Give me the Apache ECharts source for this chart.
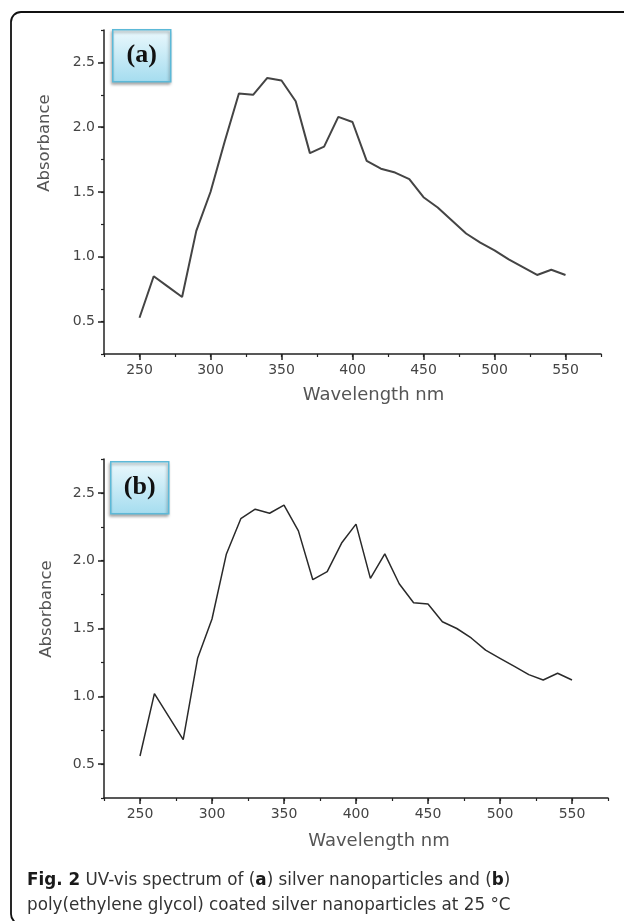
<!DOCTYPE html>
<html>
<head>
<meta charset="utf-8">
<script src="https://cdn.jsdelivr.net/npm/echarts@6/dist/echarts.min.js"></script>
<style>
	html, body { margin: 0; padding: 0; background: #fff; }
	#main { width: 624px; height: 921px; }
</style>
</head>
<body>
<div id="main"></div>
<script>
// wavelength (nm) of each reading
var wavelengths = [250, 260, 270, 280, 290, 300, 310, 320, 330, 340, 350, 360, 370, 380, 390, 400,
	410, 420, 430, 440, 450, 460, 470, 480, 490, 500, 510, 520, 530, 540, 550];
// (a) silver nanoparticles
var absorbanceA = [0.53, 0.85, 0.77, 0.69, 1.20, 1.50, 1.89, 2.26, 2.25, 2.38, 2.36, 2.20, 1.80, 1.85, 2.08, 2.04,
	1.74, 1.68, 1.65, 1.60, 1.46, 1.38, 1.28, 1.18, 1.11, 1.05, 0.98, 0.92, 0.86, 0.90, 0.86];
// (b) PEG coated silver nanoparticles
var absorbanceB = [0.56, 1.02, 0.85, 0.68, 1.28, 1.57, 2.05, 2.31, 2.38, 2.35, 2.41, 2.22, 1.86, 1.92, 2.13, 2.27,
	1.87, 2.05, 1.83, 1.69, 1.68, 1.55, 1.50, 1.43, 1.34, 1.28, 1.22, 1.16, 1.12, 1.17, 1.12];

var xTicks = [250, 300, 350, 400, 450, 500, 550];
var yTicks = [0.5, 1.0, 1.5, 2.0, 2.5];

function pairs(ys) {
	var out = [];
	for (var i = 0; i < wavelengths.length; i++) {
		out.push([wavelengths[i], ys[i]]);
	}
	return out;
}

var axisColor = '#222';
var sansFont = '"DejaVu Sans", Verdana, sans-serif';
var labelFont = { fontFamily: sansFont, fontSize: 14, color: '#444' };

function mainX(grid, padLeft, gap) {
	return {
		type: 'value', gridIndex: grid, position: 'bottom',
		min: 225, max: 575,
		axisLine: { show: true, lineStyle: { color: axisColor, width: 1.5 } },
		axisTick: { show: true, customValues: xTicks, length: 6, lineStyle: { color: axisColor, width: 1.5 } },
		axisLabel: Object.assign({ customValues: xTicks, margin: 9 }, labelFont),
		splitLine: { show: false },
		name: 'Wavelength nm', nameLocation: 'middle', nameGap: gap,
		nameTextStyle: { fontFamily: sansFont, fontSize: 18, color: '#555', padding: [0, 0, 0, padLeft] }
	};
}
function minorX(grid) {
	return {
		type: 'value', gridIndex: grid, position: 'bottom',
		min: 225, max: 575, interval: 25,
		axisLine: { show: false },
		axisTick: { show: true, length: 3, lineStyle: { color: axisColor, width: 1.2 } },
		axisLabel: { show: false },
		splitLine: { show: false }
	};
}
function mainY(grid, padLeft, gap) {
	return {
		type: 'value', gridIndex: grid, position: 'left',
		min: 0.25, max: 2.75,
		axisLine: { show: true, lineStyle: { color: axisColor, width: 1.5 } },
		axisTick: { show: true, customValues: yTicks, length: 6, lineStyle: { color: axisColor, width: 1.5 } },
		axisLabel: Object.assign({
			customValues: yTicks, margin: 9,
			formatter: function(v) { return v.toFixed(1); }
		}, labelFont),
		splitLine: { show: false },
		name: 'Absorbance', nameLocation: 'middle', nameGap: gap,
		nameTextStyle: { fontFamily: sansFont, fontSize: 16.5, color: '#555', padding: [0, 0, 0, padLeft] }
	};
}
function minorY(grid) {
	return {
		type: 'value', gridIndex: grid, position: 'left',
		min: 0.25, max: 2.75, interval: 0.25,
		axisLine: { show: false },
		axisTick: { show: true, length: 3, lineStyle: { color: axisColor, width: 1.2 } },
		axisLabel: { show: false },
		splitLine: { show: false }
	};
}

function panelLabel(txt, x, y) {
	return {
		type: 'group', left: x, top: y,
		children: [{
			type: 'rect',
			shape: { x: 0, y: 0, width: 58, height: 52 },
			style: {
				fill: new echarts.graphic.LinearGradient(0, 0, 0, 1, [
					{ offset: 0, color: '#ecf9fd' },
					{ offset: 1, color: '#a4dcef' }
				]),
				stroke: '#5cb9d8', lineWidth: 1.5,
				shadowColor: 'rgba(0,0,0,0.35)', shadowBlur: 3, shadowOffsetX: -1, shadowOffsetY: 2
			}
		}, {
			type: 'text',
			x: 29, y: 26,
			style: {
				text: txt, align: 'center', verticalAlign: 'middle',
				font: 'bold 26px "Liberation Serif", serif', fill: '#111'
			}
		}]
	};
}

var chart = echarts.init(document.getElementById('main'));
var option = {
	backgroundColor: '#fff',
	animation: false,
	grid: [
		{ left: 104, top: 30, width: 497, height: 324 },
		{ left: 104, top: 459, width: 504, height: 339 }
	],
	xAxis: [mainX(0, 42, 32), mainX(1, 46, 34), minorX(0), minorX(1)],
	yAxis: [mainY(0, 98, 51), mainY(1, 39, 49), minorY(0), minorY(1)],
	series: [{
		type: 'line', xAxisIndex: 0, yAxisIndex: 0,
		data: pairs(absorbanceA), showSymbol: false,
		lineStyle: { color: '#444', width: 2 }
	}, {
		type: 'line', xAxisIndex: 1, yAxisIndex: 1,
		data: pairs(absorbanceB), showSymbol: false,
		lineStyle: { color: '#2a2a2a', width: 1.5 }
	}],
	graphic: [{
		type: 'rect', z: -1,
		shape: { x: 11, y: 12, width: 650, height: 912, r: 10 },
		style: { fill: 'none', stroke: '#111', lineWidth: 1.8 }
	},
	panelLabel('(a)', 112, 29),
	panelLabel('(b)', 110, 461),
	{
		type: 'text', left: 27, top: 868,
		style: {
			text: '{b|Fig. 2} UV-vis spectrum of ({b|a}) silver nanoparticles and ({b|b})\npoly(ethylene glycol) coated silver nanoparticles at 25 °C',
			font: '16.8px "DejaVu Sans"', fill: '#333', lineHeight: 25,
			rich: { b: { font: 'bold 16.8px "DejaVu Sans"', fill: '#1a1a1a' } }
		}
	}]
};
chart.setOption(option);
</script>
</body>
</html>
